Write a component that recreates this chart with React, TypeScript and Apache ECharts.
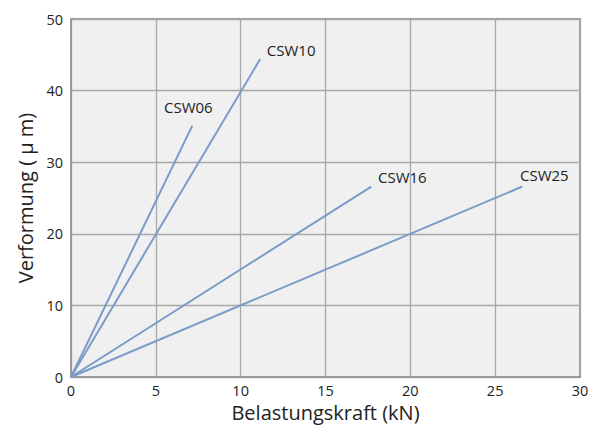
import React, { useEffect, useRef } from "react";
import * as echarts from "echarts";

const seriesNames = ["CSW06", "CSW10", "CSW16", "CSW25"];
const endX = [7.15, 11.15, 17.7, 26.6];
const endY = [35.1, 44.4, 26.6, 26.6];
const labelOffsets: [number, number][] = [
  [-4, -19],
  [31, -9],
  [31, -10],
  [22, -12],
];
const xTicks = [0, 5, 10, 15, 20, 25, 30];
const yTicks = [0, 10, 20, 30, 40, 50];

const FONT = "'Open Sans', 'Noto Sans', sans-serif";

export default function App() {
  const ref = useRef<HTMLDivElement>(null);
  useEffect(() => {
    document.body.style.margin = "0";
    if (!ref.current) return;
    const chart = echarts.init(ref.current, undefined, { renderer: "svg" });
    chart.setOption({
      animation: false,
      textStyle: { fontFamily: FONT },
      grid: {
        left: 71,
        right: 17,
        top: 19,
        bottom: 53,
        show: true,
        backgroundColor: "#f0f0f0",
        borderColor: "#9a9a9a",
        borderWidth: 2,
      },
      xAxis: {
        type: "value",
        min: xTicks[0],
        max: xTicks[xTicks.length - 1],
        interval: 5,
        name: "Belastungskraft (kN)",
        nameLocation: "middle",
        nameGap: 23,
        nameTextStyle: { fontSize: 20, color: "#222", fontFamily: FONT },
        axisLine: { show: true, lineStyle: { color: "#9a9a9a", width: 2 } },
        axisTick: { show: false },
        axisLabel: { fontSize: 14.5, color: "#222", margin: 6, fontFamily: FONT },
        splitLine: { show: true, lineStyle: { color: "#a8a8a8", width: 1.3 } },
      },
      yAxis: {
        type: "value",
        min: yTicks[0],
        max: yTicks[yTicks.length - 1],
        interval: 10,
        name: "Verformung ( μ m)",
        nameLocation: "middle",
        nameGap: 34,
        nameTextStyle: { fontSize: 20, color: "#222", fontFamily: FONT },
        axisLine: { show: true, lineStyle: { color: "#9a9a9a", width: 2 } },
        axisTick: { show: false },
        axisLabel: { fontSize: 14.5, color: "#222", margin: 8, fontFamily: FONT },
        splitLine: { show: true, lineStyle: { color: "#a8a8a8", width: 1.3 } },
      },
      series: seriesNames.map((name, i) => ({
        name,
        type: "line",
        showSymbol: true,
        symbol: "circle",
        symbolSize: 0,
        lineStyle: { color: "#7b9bc8", width: 2 },
        itemStyle: { color: "#7b9bc8" },
        data: [
          [0, 0],
          {
            value: [endX[i], endY[i]],
            label: {
              show: true,
              formatter: name,
              position: "inside",
              offset: labelOffsets[i],
              fontSize: 15,
              color: "#222",
              fontFamily: FONT,
            },
          },
        ],
      })),
    });
    return () => chart.dispose();
  }, []);
  return <div ref={ref} style={{ width: 597, height: 430 }} />;
}
